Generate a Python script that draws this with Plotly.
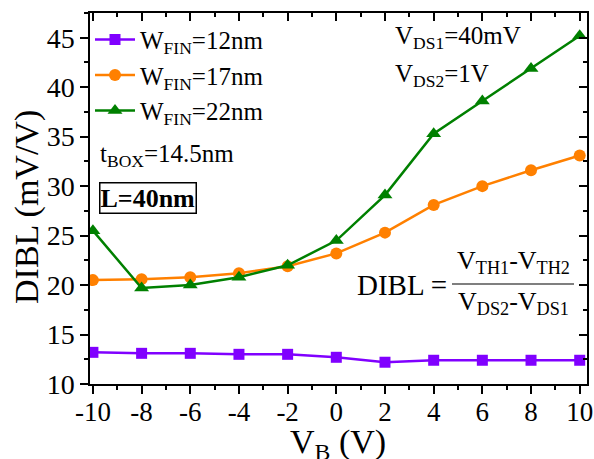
import plotly.graph_objects as go

vb = [-10, -8, -6, -4, -2, 0, 2, 4, 6, 8, 10]
x_ticklabels = ["-10", "-8", "-6", "-4", "-2", "0", "2", "4", "6", "8", "10"]
dibl_12 = [13.2, 13.1, 13.1, 13.0, 13.0, 12.7, 12.2, 12.4, 12.4, 12.4, 12.4]
dibl_17 = [20.5, 20.6, 20.8, 21.2, 21.9, 23.2, 25.3, 28.1, 30.0, 31.6, 33.1]
dibl_22 = [25.5, 19.7, 20.0, 20.8, 22.0, 24.5, 29.1, 35.3, 38.6, 41.9, 45.2]
names = ["W<sub>FIN</sub>=12nm", "W<sub>FIN</sub>=17nm", "W<sub>FIN</sub>=22nm"]
colors = ["#8000FF", "#FF8000", "#008000"]
symbols = ["square", "circle", "triangle-up"]
sizes = [11, 12, 13]

FONT = "Times New Roman"
fig = go.Figure()
for ys, nm, c, s, sz in zip([dibl_12, dibl_17, dibl_22], names, colors, symbols, sizes):
    fig.add_trace(go.Scatter(x=vb, y=ys, name=nm, mode="lines+markers",
                             line=dict(color=c, width=2.5),
                             marker=dict(symbol=s, size=sz, color=c)))
fig.add_trace(go.Scatter(x=[None], y=[None], xaxis="x2", yaxis="y2", showlegend=False, hoverinfo="skip"))

xr = [-10.12, 10.3]
yr = [10, 47.5]
common = dict(showline=True, linecolor="black", linewidth=1.5, showgrid=False, zeroline=False,
              automargin=False, tickwidth=1.5, ticklen=8, tickcolor="black")
fig.update_layout(
    template="none",
    width=594, height=459,
    margin=dict(l=90, r=7, t=13, b=75, autoexpand=False),
    paper_bgcolor="white", plot_bgcolor="white",
    font=dict(family=FONT, color="black", size=26),
    xaxis=dict(range=xr, tickvals=vb, ticktext=x_ticklabels, ticks="outside", ticklabelstandoff=-5,
               minor=dict(dtick=1, tick0=-10, ticks="outside", ticklen=4, tickwidth=1.5, tickcolor="black"),
               tickfont=dict(size=27, family=FONT), **common),
    yaxis=dict(range=yr, dtick=5, tick0=10, ticks="outside",
               minor=dict(dtick=2.5, ticks="outside", ticklen=4, tickwidth=1.5, tickcolor="black"),
               tickfont=dict(size=28, family=FONT), **common),
    xaxis2=dict(range=xr, dtick=2, tick0=-10, overlaying="x", side="top", anchor="y",
                ticks="inside", showticklabels=False,
                minor=dict(dtick=1, ticks="inside", ticklen=4, tickwidth=1.5, tickcolor="black"), **common),
    yaxis2=dict(range=yr, dtick=5, tick0=10, overlaying="y", side="right", anchor="x",
                ticks="inside", showticklabels=False,
                minor=dict(dtick=2.5, ticks="inside", ticklen=4, tickwidth=1.5, tickcolor="black"), **common),
    legend=dict(x=0.0, y=0.99, xanchor="left", yanchor="top", bgcolor="rgba(0,0,0,0)",
                font=dict(size=25, family=FONT), tracegroupgap=0, itemwidth=40),
    showlegend=True,
)

def ann(text, x, y, xanchor="left", yanchor="middle", size=25, **kw):
    fig.add_annotation(text=text, x=x, y=y, xref="paper", yref="paper", showarrow=False,
                       xanchor=xanchor, yanchor=yanchor, font=dict(size=size, family=FONT, color="black"), **kw)

W, H = 497, 371
def px(x): return (x - 90) / W
def py(y): return (384 - y) / H

# axis titles
ann("DIBL (mV/V)", px(27), py(207), xanchor="center", size=34, textangle=-90)
ann("V<sub>B</sub> (V)", px(338), py(444), xanchor="center", size=34)

ann("V<sub>DS1</sub>=40mV", px(393), py(38))
ann("V<sub>DS2</sub>=1V", px(393), py(75))
ann("t<sub>BOX</sub>=14.5nm", px(98), py(155))
ann("<b>L=40nm</b>", px(99), py(198), size=26, bordercolor="black", borderwidth=1.5, borderpad=0)
ann("DIBL =", px(355), py(285), size=29)
ann("V<sub>TH1</sub>-V<sub>TH2</sub>", px(513), py(262), xanchor="center", size=26)
ann("V<sub>DS2</sub>-V<sub>DS1</sub>", px(513), py(303), xanchor="center", size=26)
fig.add_shape(type="line", xref="paper", yref="paper", x0=px(452), x1=px(574), y0=py(284), y1=py(284),
              line=dict(color="black", width=1.2))

fig.write_html("out.html")
